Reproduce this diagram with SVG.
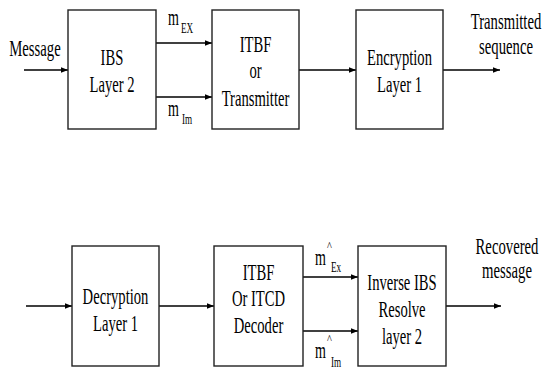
<svg xmlns="http://www.w3.org/2000/svg" width="543" height="370" viewBox="0 0 543 370" font-family="Liberation Serif, Times New Roman, serif">
<defs>
<marker id="ah" viewBox="0 0 10 10" refX="10" refY="5" markerWidth="7" markerHeight="7" markerUnits="userSpaceOnUse" orient="auto">
<path d="M0,1 L10,5 L0,9 z" fill="#000"/>
</marker>
<style>
.box{fill:#fff;stroke:#222;stroke-width:1.4}
.t{font-size:24px;text-anchor:middle;fill:#000}
.l{font-size:23px;text-anchor:middle;fill:#000}
.m{font-size:23px;fill:#000}
.s{font-size:15px;fill:#000}
.h{font-size:13px;fill:#000}
.c{stroke:#000;stroke-width:1.6;fill:none;marker-end:url(#ah)}
</style>
</defs>
<rect width="543" height="370" fill="#fff"/>
<g id="connectors">
<line class="c" x1="24" y1="70" x2="68" y2="70"/>
<line class="c" x1="156" y1="43" x2="212" y2="43"/>
<line class="c" x1="156" y1="97" x2="212" y2="97"/>
<line class="c" x1="299" y1="70" x2="356" y2="70"/>
<line class="c" x1="443" y1="70" x2="500" y2="70"/>
<line class="c" x1="26" y1="306" x2="72" y2="306"/>
<line class="c" x1="159" y1="306" x2="214" y2="306"/>
<line class="c" x1="303" y1="277" x2="358" y2="277"/>
<line class="c" x1="303" y1="331" x2="358" y2="331"/>
<line class="c" x1="446" y1="306" x2="501" y2="306"/>
</g>
<g id="lbl-message"><text class="l" transform="translate(35,56) scale(0.64,1)">Message</text></g>
<g id="lbl-mex"><text class="m" transform="translate(168,25) scale(0.61,1)">m</text><text class="s" transform="translate(181,33) scale(0.61,1)">EX</text></g>
<g id="lbl-mim"><text class="m" transform="translate(168,116) scale(0.61,1)">m</text><text class="s" transform="translate(182,124) scale(0.61,1)">Im</text></g>
<g id="ibs">
<rect class="box" x="68" y="10" width="88" height="119"/>
<text class="t" transform="translate(112,65) scale(0.61,1)">IBS</text>
<text class="t" transform="translate(112,92) scale(0.61,1)">Layer 2</text>
</g>
<g id="itbf-tx">
<rect class="box" x="212" y="10" width="87" height="119"/>
<text class="t" transform="translate(255.5,52) scale(0.61,1)">ITBF</text>
<text class="t" transform="translate(255.5,78) scale(0.61,1)">or</text>
<text class="t" transform="translate(255.5,106) scale(0.61,1)">Transmitter</text>
</g>
<g id="encryption">
<rect class="box" x="356" y="10" width="87" height="119"/>
<text class="t" transform="translate(399.5,65) scale(0.61,1)">Encryption</text>
<text class="t" transform="translate(399.5,92) scale(0.61,1)">Layer 1</text>
</g>
<g id="lbl-transmitted">
<text class="l" transform="translate(506,29) scale(0.64,1)">Transmitted</text>
<text class="l" transform="translate(506,54) scale(0.64,1)">sequence</text>
</g>
<g id="decryption">
<rect class="box" x="72" y="246" width="87" height="120"/>
<text class="t" transform="translate(115.5,304) scale(0.61,1)">Decryption</text>
<text class="t" transform="translate(115.5,331) scale(0.61,1)">Layer 1</text>
</g>
<g id="itbf-dec">
<rect class="box" x="214" y="246" width="89" height="120"/>
<text class="t" transform="translate(258.5,280) scale(0.61,1)">ITBF</text>
<text class="t" transform="translate(258.5,306) scale(0.61,1)">Or ITCD</text>
<text class="t" transform="translate(258.5,333) scale(0.61,1)">Decoder</text>
</g>
<g id="inverse-ibs">
<rect class="box" x="358" y="246" width="88" height="120"/>
<text class="t" transform="translate(402,290) scale(0.61,1)">Inverse IBS</text>
<text class="t" transform="translate(402,317) scale(0.61,1)">Resolve</text>
<text class="t" transform="translate(402,344) scale(0.61,1)">layer 2</text>
</g>
<g id="lbl-mhat-ex"><text class="m" transform="translate(315,265) scale(0.61,1)">m</text><text class="h" transform="translate(327,250) scale(0.8,1)">^</text><text class="s" transform="translate(331,272) scale(0.61,1)">Ex</text></g>
<g id="lbl-mhat-im"><text class="m" transform="translate(315,358) scale(0.61,1)">m</text><text class="h" transform="translate(327,343) scale(0.8,1)">^</text><text class="s" transform="translate(331,367) scale(0.61,1)">Im</text></g>
<g id="lbl-recovered">
<text class="l" transform="translate(507,254) scale(0.64,1)">Recovered</text>
<text class="l" transform="translate(507,278) scale(0.64,1)">message</text>
</g>
</svg>
